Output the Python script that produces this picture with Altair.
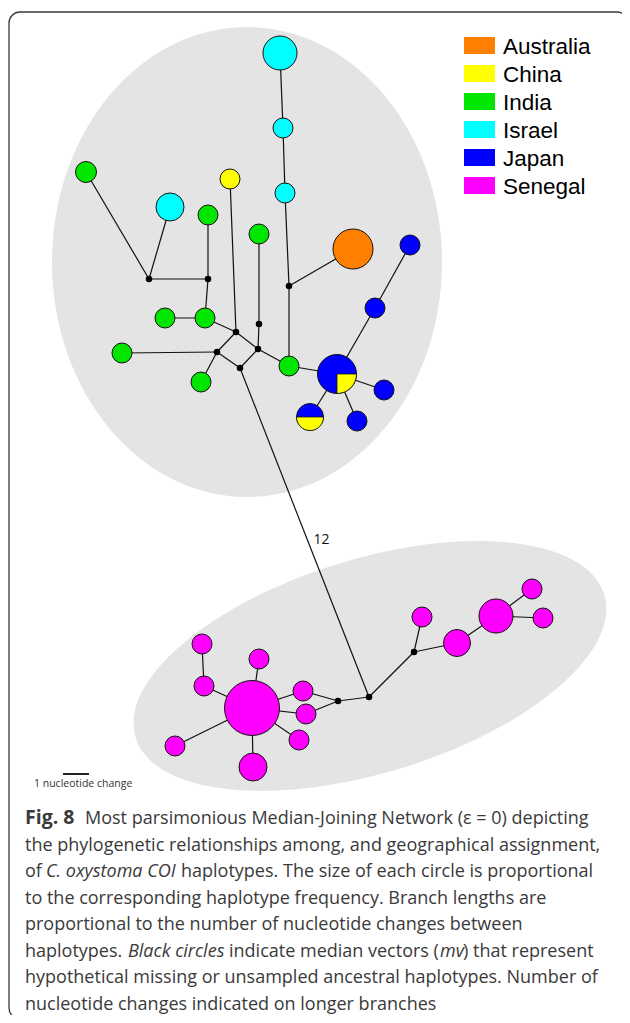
import altair as alt
import pandas as pd

# ---------------- data ----------------
countries = ["Australia", "China", "India", "Israel", "Japan", "Senegal"]
country_colors = ["#FF8000", "#FFFF00", "#00E600", "#00FFFF", "#0000FF", "#FF00FF"]

# haplotype nodes (network layout coordinates)
hap_id = ["I1", "I2", "I3", "N1", "I4", "C1", "N2", "N3", "A1", "J1", "J2", "N4", "N5",
          "N6", "N7", "N8", "J3", "J4", "J5", "J6",
          "S1", "S2", "S3", "S4", "S5", "S6", "S7", "S8", "S9", "S10", "S11", "S12", "S13", "S14"]
hap_country = ["Israel", "Israel", "Israel", "India", "Israel", "China", "India", "India",
               "Australia", "Japan", "Japan", "India", "India", "India", "India", "India",
               "Japan", "Japan", "Japan", "Japan",
               "Senegal", "Senegal", "Senegal", "Senegal", "Senegal", "Senegal", "Senegal",
               "Senegal", "Senegal", "Senegal", "Senegal", "Senegal", "Senegal", "Senegal"]
hap_x = [280, 283, 285, 86, 170, 230, 208, 259, 353, 410, 375, 165, 205, 122, 201, 289,
         337, 384, 310, 357,
         252, 202, 259, 204, 303, 306, 299, 175, 253, 422, 457, 496, 532, 543]
hap_y = [53, 128, 193, 172, 207, 179, 215, 234, 249, 245, 308, 318, 318, 353, 382, 366,
         374, 390, 417, 421,
         708, 644, 659, 686, 691, 714, 740, 746, 767, 617, 643, 616, 589, 618]
hap_r = [17, 10, 10, 10.5, 14, 10, 10, 10, 20, 10, 10, 10, 10, 10, 10, 10,
         19.5, 10, 13.5, 10,
         27.5, 10, 10, 10, 10, 10, 10, 10, 14, 10, 13.5, 17, 10, 10]

# haplotypes shared with China (share of the circle)
mixed_id = ["J3", "J5"]
mixed_share = ["quarter", "half"]

# median vectors
mv_id = ["M1", "M2", "M3", "Ma", "Mb", "Mc", "Md", "Me", "Mf", "Mg", "Mh"]
mv_x = [149, 208, 289, 236, 259, 258, 217, 240, 369, 338, 414]
mv_y = [279, 279, 286, 332, 324, 349, 352, 368, 697, 701, 652]

# branches
edge_from = ["I1", "I2", "I3", "M3", "M3", "N1", "I4", "M1", "N2", "M2", "N4", "N5", "C1",
             "N3", "Mb", "Ma", "Ma", "Md", "Me", "N6", "N7", "Mc", "N8", "J3", "J2", "J3",
             "J3", "J3", "Me",
             "S2", "S4", "S3", "S5", "S6", "S7", "S8", "S9", "S5", "S6", "Mg", "Mf", "Mh",
             "Mh", "S11", "S12", "S12"]
edge_to = ["I2", "I3", "M3", "N8", "A1", "M1", "M1", "M2", "M2", "N5", "N5", "Ma", "Ma",
           "Mb", "Mc", "Md", "Mc", "Me", "Mc", "Md", "Md", "N8", "J3", "J2", "J1", "J4",
           "J5", "J6", "Mf",
           "S4", "S1", "S1", "S1", "S1", "S1", "S1", "S1", "Mg", "Mg", "Mf", "Mh", "S10",
           "S11", "S12", "S13", "S14"]
long_branch = ("Me", "Mf")
long_branch_changes = "12"

# background groups (ellipses)
group_cx = [247, 370]
group_cy = [262, 666]
group_rx = [195, 245]
group_ry = [235, 107]
group_tilt = [0, 343]

legend_labels = countries
scale_label = "1 nucleotide change"

caption = [
    [("Fig. 8", "bold", 25),
     ("Most parsimonious Median-Joining Network (ε = 0) depicting", "normal", 85)],
    [("the phylogenetic relationships among, and geographical assignment,", "normal", 25)],
    [("of", "normal", 25), ("C. oxystoma COI", "italic", 46),
     ("haplotypes. The size of each circle is proportional", "normal", 181)],
    [("to the corresponding haplotype frequency. Branch lengths are", "normal", 25)],
    [("proportional to the number of nucleotide changes between", "normal", 25)],
    [("haplotypes.", "normal", 25), ("Black circles", "italic", 128),
     ("indicate median vectors (", "normal", 229), ("mv", "italic", 440),
     (") that represent", "normal", 463)],
    [("hypothetical missing or unsampled ancestral haplotypes. Number of", "normal", 25)],
    [("nucleotide changes indicated on longer branches", "normal", 25)],
]

# ---------------- tables ----------------
pos = {h: (x, y) for h, x, y in zip(hap_id, hap_x, hap_y)}
pos.update({m: (x, y) for m, x, y in zip(mv_id, mv_x, mv_y)})

haps = pd.DataFrame({"id": hap_id, "country": hap_country, "x": hap_x, "y": hap_y, "r": hap_r})
haps["size"] = (2 * haps["r"]) ** 2
mv = pd.DataFrame({"id": mv_id, "x": mv_x, "y": mv_y})
edges = pd.DataFrame({
    "x": [pos[a][0] for a in edge_from], "y": [pos[a][1] for a in edge_from],
    "x2": [pos[b][0] for b in edge_to], "y2": [pos[b][1] for b in edge_to],
})
mixed = haps.set_index("id").loc[mixed_id].reset_index()
mixed["share"] = mixed_share
share_path = {"quarter": "M 0 0 L 1 0 A 1 1 0 0 1 0 1 Z",
              "half": "M -1 0 L 1 0 A 1 1 0 0 1 -1 0 Z"}
mixed["path"] = mixed["share"].map(share_path)

ell_rows = []
for cx, cy, rx, ry, t in zip(group_cx, group_cy, group_rx, group_ry, group_tilt):
    m = max(rx, ry)
    ax, ay = rx / m, ry / m
    path = f"M {-ax:.4f} 0 A {ax:.4f} {ay:.4f} 0 1 0 {ax:.4f} 0 A {ax:.4f} {ay:.4f} 0 1 0 {-ax:.4f} 0 Z"
    ell_rows.append({"x": cx, "y": cy, "path": path, "size": (2 * m) ** 2, "angle": t})
ells = pd.DataFrame(ell_rows)

a, b = pos[long_branch[0]], pos[long_branch[1]]
lbl = pd.DataFrame({"x": [(a[0] + b[0]) / 2], "y": [(a[1] + b[1]) / 2], "t": [long_branch_changes]})

leg = pd.DataFrame({"country": legend_labels})
leg["y"] = [45.5 + 28 * i for i in range(len(leg))]
leg["y1"] = leg["y"] - 8.5
leg["y2"] = leg["y"] + 8.5
leg["x"] = 464
leg["x2"] = 495
leg["tx"] = 503

cap_rows = []
for i, line in enumerate(caption):
    for text, style, x in line:
        cap_rows.append({"t": text, "style": style, "x": x, "y": 824 + 26.5 * i})
cap = pd.DataFrame(cap_rows)

frame = pd.DataFrame({"x": [9], "x2": [628], "y": [12], "y2": [1019]})
bar = pd.DataFrame({"x": [63], "x2": [89], "y": [774], "t": [scale_label], "tx": [34], "ty": [787]})

# ---------------- chart ----------------
XS = alt.Scale(domain=[8, 622], nice=False, zero=False)
YS = alt.Scale(domain=[8, 1015], nice=False, zero=False, reverse=True)


def X(f="x"):
    return alt.X(f"{f}:Q", scale=XS, axis=None)


def Y(f="y"):
    return alt.Y(f"{f}:Q", scale=YS, axis=None)


fill_scale = alt.Scale(domain=countries, range=country_colors)

border = alt.Chart(frame).mark_rect(
    fillOpacity=0, stroke="#3a3a3a", strokeWidth=1.3, cornerRadius=11
).encode(x=X(), x2="x2:Q", y=Y(), y2="y2:Q")

groups = alt.Chart(ells).mark_point(filled=True, opacity=1, fill="#e4e4e4", strokeWidth=0).encode(
    x=X(), y=Y(),
    shape=alt.Shape("path:N", scale=None),
    size=alt.Size("size:Q", scale=None),
    angle=alt.Angle("angle:Q", scale=None),
)

branches = alt.Chart(edges).mark_rule(color="#111111", strokeWidth=1.2).encode(
    x=X(), y=Y(), x2="x2:Q", y2="y2:Q"
)

nodes = alt.Chart(haps).mark_point(
    filled=True, opacity=1, shape="circle", stroke="#111111", strokeWidth=1
).encode(
    x=X(), y=Y(),
    fill=alt.Fill("country:N", scale=fill_scale, legend=None),
    size=alt.Size("size:Q", scale=None),
)

china_parts = alt.Chart(mixed).mark_point(
    filled=True, opacity=1, fill="#FFFF00", stroke="#111111", strokeWidth=0.8
).encode(
    x=X(), y=Y(),
    shape=alt.Shape("path:N", scale=None),
    size=alt.Size("size:Q", scale=None),
)

medians = alt.Chart(mv).mark_point(
    filled=True, opacity=1, shape="circle", fill="black", size=42, strokeWidth=0
).encode(x=X(), y=Y())

branch_label = alt.Chart(lbl).mark_text(
    font="Open Sans", fontSize=14, color="#111111", dx=17, dy=7
).encode(x=X(), y=Y(), text="t:N")

legend_boxes = alt.Chart(leg).mark_rect().encode(
    x=X(), x2="x2:Q", y=Y("y1"), y2="y2:Q",
    fill=alt.Fill("country:N", scale=fill_scale, legend=None),
)
legend_text = alt.Chart(leg).mark_text(
    font="Liberation Sans", fontSize=22.5, align="left", baseline="middle", color="black", dy=1
).encode(x=X("tx"), y=Y(), text="country:N")

scale_bar = alt.Chart(bar).mark_rule(color="#222222", strokeWidth=2).encode(
    x=X(), x2="x2:Q", y=Y()
)
scale_text = alt.Chart(bar).mark_text(
    font="Open Sans", fontSize=10.5, align="left", baseline="alphabetic", color="#333333"
).encode(x=X("tx"), y=Y("ty"), text="t:N")

cap_base = alt.Chart(cap).encode(x=X(), y=Y(), text="t:N")
cap_kw = dict(font="Open Sans", align="left", baseline="alphabetic", color="#3a3a3a")
cap_normal = cap_base.mark_text(fontSize=18, **cap_kw).transform_filter(alt.datum.style == "normal")
cap_bold = cap_base.mark_text(fontSize=19.5, fontWeight="bold", **cap_kw).transform_filter(alt.datum.style == "bold")
cap_italic = cap_base.mark_text(fontSize=18, fontStyle="italic", **cap_kw).transform_filter(alt.datum.style == "italic")

chart = alt.layer(
    border, groups, branches, nodes, china_parts, medians, branch_label,
    legend_boxes, legend_text, scale_bar, scale_text, cap_normal, cap_bold, cap_italic
).properties(
    width=614, height=1007, padding=0, autosize="none", background="white"
).configure_view(stroke=None)

chart.save("out.html", embed_options={"renderer": "svg", "actions": False})
